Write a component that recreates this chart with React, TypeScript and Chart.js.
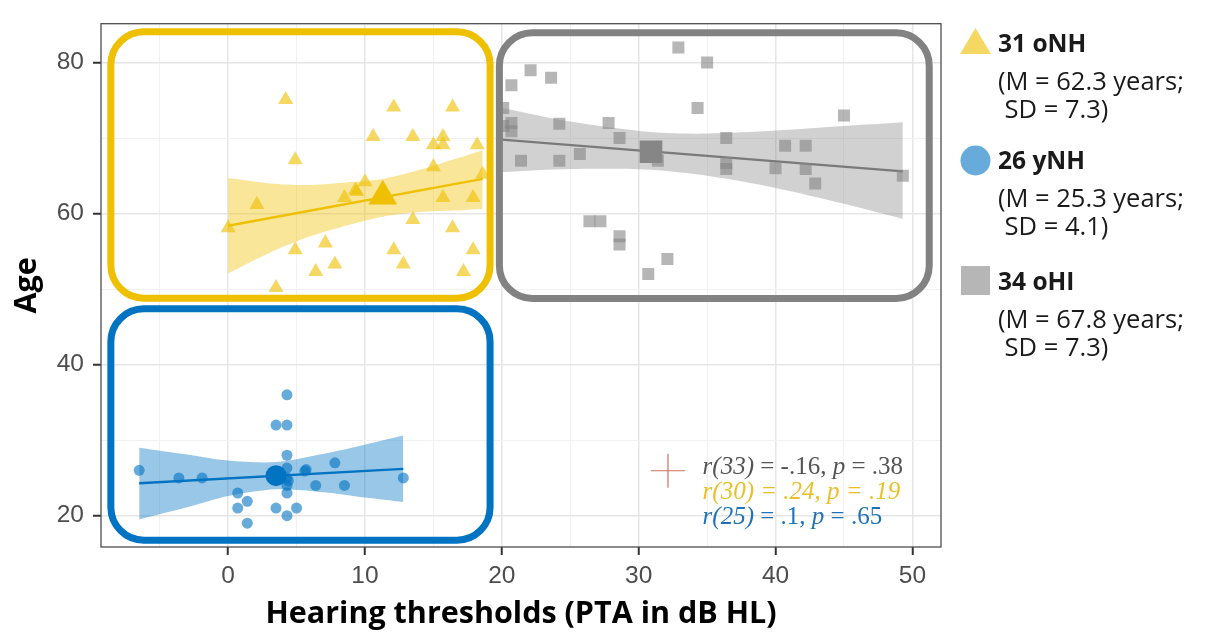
import React, { useEffect, useRef } from 'react';
import { Chart, registerables } from 'chart.js';

Chart.register(...registerables);

// ---------- data ----------
const onhX = [4.2, 4.9, 2.1, 0.0, 4.9, 7.1, 7.8, 6.4, 3.5, 8.5, 9.3, 9.4, 10.0, 10.6, 12.1, 12.1, 12.8, 13.5, 13.5, 15.0, 15.0, 15.7, 15.7, 16.4, 15.7, 16.4, 17.9, 17.9, 17.2, 18.2, 18.6];
const onhY = [75.1, 67.1, 61.2, 58.1, 55.2, 56.1, 53.3, 52.3, 50.2, 62.1, 63.1, 62.9, 64.2, 70.2, 74.1, 55.2, 53.3, 70.2, 59.2, 66.2, 69.1, 70.2, 69.1, 74.1, 62.1, 58.1, 62.1, 55.2, 52.3, 69.1, 65.2];

const ohiX = [32.9, 35.0, 22.1, 23.6, 20.7, 20.1, 34.3, 45.0, 20.7, 20.7, 24.2, 27.8, 28.6, 25.7, 21.4, 24.2, 31.4, 36.4, 36.4, 36.4, 40.7, 42.2, 40.0, 42.2, 42.9, 49.3, 26.4, 27.2, 28.6, 28.6, 32.1, 30.7, 30.9, 20.1];
const ohiY = [82.0, 80.0, 79.0, 78.0, 77.0, 74.0, 74.0, 73.0, 72.0, 70.9, 71.9, 72.0, 70.0, 67.9, 67.0, 67.0, 67.0, 70.0, 66.7, 65.9, 69.0, 69.0, 66.0, 65.9, 64.0, 65.0, 59.0, 59.0, 57.0, 55.9, 54.0, 52.0, 67.9, 71.6];

const ynhX = [-6.5, -3.6, -1.9, 0.7, 1.4, 0.7, 1.4, 3.5, 4.3, 5.0, 4.3, 3.5, 4.3, 4.3, 4.3, 4.3, 4.3, 4.3, 5.7, 6.4, 7.8, 8.5, 12.8, 3.5, 5.6, 4.4];
const ynhY = [26.0, 25.0, 25.0, 23.0, 21.9, 21.0, 19.0, 21.0, 20.0, 21.0, 36.0, 32.0, 32.0, 28.0, 26.3, 25.0, 24.0, 23.0, 26.1, 24.0, 27.0, 24.0, 25.0, 25.2, 25.9, 24.6];

const meanX = [11.3, 30.9, 3.5]; // oNH, oHI, yNH
const meanY = [62.3, 68.2, 25.3];

const onhFitX = [0, 18.6];
const onhFitY = [58.4, 64.6];
const ohiFitX = [20.0, 49.3];
const ohiFitY = [69.8, 65.6];
const ynhFitX = [-6.5, 12.8];
const ynhFitY = [24.3, 26.2];

const onhBandX = [0, 3, 6, 9, 11.3, 14, 16.5, 18.6];
const onhBandLo = [52.1, 54.8, 57.0, 58.6, 59.6, 60.2, 60.4, 60.6];
const onhBandHi = [64.7, 64.0, 63.8, 64.2, 64.6, 65.8, 67.2, 68.4];

const ohiBandX = [20, 25, 30.9, 35, 40, 45, 49.3];
const ohiBandLo = [65.5, 65.9, 65.8, 65.0, 63.4, 61.3, 59.3];
const ohiBandHi = [74.0, 72.2, 70.8, 70.6, 71.0, 71.6, 72.1];

const ynhBandX = [-6.5, -3, 0, 3.5, 7, 10, 12.8];
const ynhBandLo = [19.5, 21.1, 22.6, 23.5, 23.1, 22.4, 21.8];
const ynhBandHi = [29.0, 28.1, 27.3, 27.1, 28.2, 29.4, 30.6];

// group boxes (data units)
const boxXMin = [-8.57, 19.82, -8.57];
const boxXMax = [19.14, 51.23, 19.14];
const boxYMin = [48.79, 48.77, 16.76];
const boxYMax = [84.07, 83.95, 47.39];

const X_TICKS = [-5, 0, 5, 10, 15, 20, 25, 30, 35, 40, 45, 50];
const Y_TICKS = [20, 30, 40, 50, 60, 70, 80];

const legendTitles = ['31 oNH', '26 yNH', '34 oHI'];
const legendLine1 = ['(M = 62.3 years;', '(M = 25.3 years;', '(M = 67.8 years;'];
const legendLine2 = [' SD = 7.3)', ' SD = 4.1)', ' SD = 7.3)'];

const statLines: [string, boolean][][] = [
  [['r(33)', true], [' = -.16, ', false], ['p', true], [' = .38', false]],
  [['r(30) = .24, p = .19', true]],
  [['r(25)', true], [' = .1, ', false], ['p', true], [' = .65', false]],
];
const crossPos = [32.14, 25.95];
const statPos = [34.67, 25.51];

// ---------- styles ----------
const YEL = '#EFC000';
const GRY = '#868686';
const BLU = '#0073C2';
const YEL_PT = 'rgba(239,192,0,0.62)';
const GRY_PT = 'rgba(134,134,134,0.6)';
const BLU_PT = 'rgba(0,115,194,0.6)';
const YEL_BAND = 'rgba(239,192,0,0.4)';
const GRY_BAND = 'rgba(134,134,134,0.38)';
const BLU_BAND = 'rgba(0,115,194,0.4)';
const BOX_COLORS = [YEL, '#828282', BLU];
const STAT_COLORS = ['#555555', '#E9C02A', '#1F72B8'];

const pts = (xs: number[], ys: number[]) => xs.map((x, i) => ({ x, y: ys[i] }));

function roundRectPath(ctx: CanvasRenderingContext2D, x0: number, y0: number, x1: number, y1: number, r: number) {
  ctx.beginPath();
  ctx.moveTo(x0 + r, y0);
  ctx.lineTo(x1 - r, y0);
  ctx.arcTo(x1, y0, x1, y0 + r, r);
  ctx.lineTo(x1, y1 - r);
  ctx.arcTo(x1, y1, x1 - r, y1, r);
  ctx.lineTo(x0 + r, y1);
  ctx.arcTo(x0, y1, x0, y1 - r, r);
  ctx.lineTo(x0, y0 + r);
  ctx.arcTo(x0, y0, x0 + r, y0, r);
  ctx.closePath();
}

const decor = {
  id: 'decor',
  afterDatasetsDraw(chart: any) {
    const { ctx, scales } = chart;
    const x = scales.x, y = scales.y;
    ctx.save();
    ctx.lineWidth = 7;
    for (let i = 0; i < 3; i++) {
      const x0 = x.getPixelForValue(boxXMin[i]);
      const x1 = x.getPixelForValue(boxXMax[i]);
      const y0 = y.getPixelForValue(boxYMax[i]);
      const y1 = y.getPixelForValue(boxYMin[i]);
      ctx.strokeStyle = BOX_COLORS[i];
      roundRectPath(ctx, x0, y0, x1, y1, 33);
      ctx.stroke();
    }
    ctx.restore();
  },
  afterDraw(chart: any) {
    const { ctx, chartArea: a, scales } = chart;
    const x = scales.x, y = scales.y;
    ctx.save();
    // panel border
    ctx.strokeStyle = '#4D4D4D';
    ctx.lineWidth = 1.3;
    ctx.strokeRect(a.left, a.top, a.right - a.left, a.bottom - a.top);

    // cross marker
    const cx = x.getPixelForValue(crossPos[0]);
    const cy = y.getPixelForValue(crossPos[1]);
    ctx.strokeStyle = '#D0705E';
    ctx.lineWidth = 1.2;
    ctx.beginPath();
    ctx.moveTo(cx - 17, cy);
    ctx.lineTo(cx + 17, cy);
    ctx.moveTo(cx, cy - 17);
    ctx.lineTo(cx, cy + 17);
    ctx.stroke();

    // stats text
    const sx = x.getPixelForValue(statPos[0]);
    const sy = y.getPixelForValue(statPos[1]);
    ctx.textBaseline = 'alphabetic';
    ctx.textAlign = 'left';
    statLines.forEach((segs, li) => {
      let px = sx;
      ctx.fillStyle = STAT_COLORS[li];
      segs.forEach(([t, it]) => {
        ctx.font = `${it ? 'italic ' : ''}25px "Liberation Serif"`;
        ctx.fillText(t, px, sy + li * 25);
        px += ctx.measureText(t).width;
      });
    });

    // legend
    const lx = a.right + 19;
    const tops = [28, 145, 266];
    for (let i = 0; i < 3; i++) {
      const t = tops[i];
      if (i === 0) {
        ctx.fillStyle = YEL_PT;
        ctx.beginPath();
        ctx.moveTo(lx + 15.5, t);
        ctx.lineTo(lx + 31, t + 26);
        ctx.lineTo(lx, t + 26);
        ctx.closePath();
        ctx.fill();
      } else if (i === 1) {
        ctx.fillStyle = BLU_PT;
        ctx.beginPath();
        ctx.arc(lx + 15.5, t + 15.5, 15, 0, Math.PI * 2);
        ctx.fill();
      } else {
        ctx.fillStyle = GRY_PT;
        ctx.fillRect(lx + 1, t, 29, 29);
      }
      ctx.fillStyle = '#1A1A1A';
      ctx.font = 'bold 24.5px "Open Sans"';
      ctx.fillText(legendTitles[i], lx + 38, t + 24);
      ctx.font = '25.5px "Open Sans"';
      ctx.fillText(legendLine1[i], lx + 38, t + 62);
      ctx.fillText(legendLine2[i], lx + 38, t + 90);
    }
    ctx.restore();
  },
};

export default function App() {
  const ref = useRef<HTMLCanvasElement>(null);
  useEffect(() => {
    const tickFont = { family: '"Liberation Sans", Arial, sans-serif', size: 24.5 };
    const titleFont = { family: '"Open Sans", sans-serif', size: 30.5, weight: 'bold' as const };
    const lineDs = (xs: number[], ys: number[], color: string) => ({
      type: 'line' as const,
      data: pts(xs, ys),
      borderColor: color,
      borderWidth: 2.4,
      pointRadius: 0,
      fill: false,
    });
    const bandLo = (xs: number[], ys: number[]) => ({
      type: 'line' as const,
      data: pts(xs, ys),
      borderWidth: 0,
      borderColor: 'rgba(0,0,0,0)',
      pointRadius: 0,
      tension: 0.3,
      fill: false,
    });
    const bandHi = (xs: number[], ys: number[], color: string) => ({
      type: 'line' as const,
      data: pts(xs, ys),
      borderWidth: 0,
      borderColor: 'rgba(0,0,0,0)',
      backgroundColor: color,
      pointRadius: 0,
      tension: 0.3,
      fill: '-1',
    });
    const chart = new Chart(ref.current!, {
      type: 'scatter',
      data: {
        datasets: [
          { data: [{ x: meanX[0], y: meanY[0] }], pointStyle: 'triangle', pointRadius: 16.5, backgroundColor: YEL, borderWidth: 0 },
          { data: [{ x: meanX[1], y: meanY[1] }], pointStyle: 'rect', pointRadius: 16, backgroundColor: GRY, borderWidth: 0 },
          { data: [{ x: meanX[2], y: meanY[2] }], pointStyle: 'circle', pointRadius: 10.5, backgroundColor: BLU, borderWidth: 0 },
          { data: pts(onhX, onhY), pointStyle: 'triangle', pointRadius: 8.7, backgroundColor: YEL_PT, borderWidth: 0 },
          { data: pts(ohiX, ohiY), pointStyle: 'rect', pointRadius: 8.5, backgroundColor: GRY_PT, borderWidth: 0 },
          { data: pts(ynhX, ynhY), pointStyle: 'circle', pointRadius: 5.5, backgroundColor: BLU_PT, borderWidth: 0 },
          lineDs(onhFitX, onhFitY, YEL),
          lineDs(ohiFitX, ohiFitY, '#7A7A7A'),
          lineDs(ynhFitX, ynhFitY, BLU),
          bandLo(onhBandX, onhBandLo),
          bandHi(onhBandX, onhBandHi, YEL_BAND),
          bandLo(ohiBandX, ohiBandLo),
          bandHi(ohiBandX, ohiBandHi, GRY_BAND),
          bandLo(ynhBandX, ynhBandLo),
          bandHi(ynhBandX, ynhBandHi, BLU_BAND),
        ] as any,
      },
      options: {
        responsive: false,
        animation: false,
        devicePixelRatio: 1,
        events: [],
        layout: { padding: { left: 0, top: 12, right: 264, bottom: 0 } },
        plugins: { legend: { display: false }, tooltip: { enabled: false } },
        scales: {
          x: {
            type: 'linear',
            min: -9.29,
            max: 52.09,
            afterBuildTicks: (s: any) => { s.ticks = X_TICKS.map((v) => ({ value: v })); },
            afterFit: (s: any) => { s.height = 86; },
            border: { display: false },
            grid: {
              color: (c: any) => (c.tick && c.tick.value % 10 === 0 ? '#E6E6E6' : '#F1F1F1'),
              lineWidth: (c: any) => (c.tick && c.tick.value % 10 === 0 ? 1.5 : 1),
              tickColor: (c: any) => (c.tick && c.tick.value % 10 === 0 ? '#333333' : 'rgba(0,0,0,0)'),
              tickWidth: 2,
              tickLength: 8,
            },
            ticks: {
              autoSkip: false,
              maxRotation: 0,
              padding: 7,
              color: '#4D4D4D',
              font: tickFont,
              callback: (v: any) => (Number(v) % 10 === 0 ? String(v) : ''),
            },
            title: { display: true, text: 'Hearing thresholds (PTA in dB HL)', color: '#000', font: titleFont, padding: { top: 0, bottom: 0 } },
          },
          y: {
            type: 'linear',
            min: 15.85,
            max: 85.15,
            afterBuildTicks: (s: any) => { s.ticks = Y_TICKS.map((v) => ({ value: v })); },
            afterFit: (s: any) => { s.width = 101; },
            border: { display: false },
            grid: {
              color: (c: any) => (c.tick && c.tick.value % 20 === 0 ? '#E6E6E6' : '#F1F1F1'),
              lineWidth: (c: any) => (c.tick && c.tick.value % 20 === 0 ? 1.5 : 1),
              tickColor: (c: any) => (c.tick && c.tick.value % 20 === 0 ? '#333333' : 'rgba(0,0,0,0)'),
              tickWidth: 2,
              tickLength: 8,
            },
            ticks: {
              autoSkip: false,
              padding: 9,
              color: '#4D4D4D',
              font: tickFont,
              callback: (v: any) => (Number(v) % 20 === 0 ? String(v) : ''),
            },
            title: { display: true, text: 'Age', color: '#000', font: titleFont, padding: { top: 9, bottom: 0 } },
          },
        },
      } as any,
      plugins: [decor],
    });
    return () => chart.destroy();
  }, []);
  return (
    <div style={{ position: 'fixed', left: 0, top: 0, width: 1205, height: 633, background: '#fff' }}>
      <canvas ref={ref} width={1205} height={633} style={{ display: 'block' }} />
    </div>
  );
}
